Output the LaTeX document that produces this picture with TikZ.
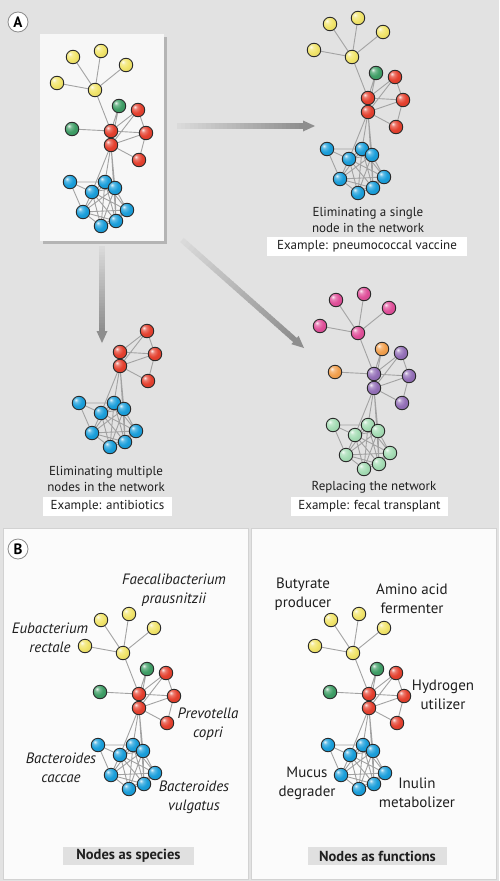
\documentclass[tikz,border=0pt]{standalone}
\usepackage{fontspec}
\setmainfont{PT Sans}
\usetikzlibrary{arrows.meta,calc}
\pgfdeclarelayer{bglayer}
\pgfdeclarelayer{edgelayer}
\pgfsetlayers{bglayer,edgelayer,main}

\definecolor{bgA}{HTML}{E2E2E2}
\definecolor{boxB}{HTML}{FBFBFB}
\definecolor{boxline}{HTML}{D2D2D2}
\definecolor{netbox}{HTML}{F7F7F7}
\definecolor{shadowc}{HTML}{B4B4B4}
\definecolor{edgegray}{HTML}{A2A2A2}
\definecolor{nodeborder}{HTML}{2A2A2A}
\definecolor{arrowdark}{HTML}{8E8E8E}
\definecolor{arrowlight}{HTML}{DADADA}
\definecolor{tagbg}{HTML}{E0E0E0}
\definecolor{cyel}{HTML}{F2E56B}
\definecolor{cred}{HTML}{E5412F}
\definecolor{cgrn}{HTML}{3F9E66}
\definecolor{cblu}{HTML}{1B9FDB}
\definecolor{cpnk}{HTML}{E0509A}
\definecolor{corg}{HTML}{F2A04E}
\definecolor{cpur}{HTML}{9470B8}
\definecolor{cmnt}{HTML}{A5DDB5}

\makeatletter
\pgfdeclareradialshading[tikz@ball]{softball}{\pgfqpoint{-12bp}{12bp}}{%
 color(0bp)=(tikz@ball!10!white);
 color(8bp)=(tikz@ball!70!white);
 color(20bp)=(tikz@ball);
 color(45bp)=(tikz@ball!88!black);
 color(70bp)=(tikz@ball!75!black)}
\makeatother

\tikzset{
  bnode/.style={circle, draw=nodeborder, line width=0.9pt, minimum size=13.5pt,
    inner sep=0pt, ball color=#1, shading=softball},
  netedge/.style={draw=edgegray, line width=0.9pt},
  captxt/.style={font=\fontsize{13}{16}\selectfont, align=center, text=black!88},
  example/.style={font=\fontsize{13}{16}\selectfont, fill=white, inner sep=0pt,
    minimum height=19pt, text=black!88},
  spec/.style={font=\itshape\fontsize{15}{19}\selectfont, align=center, text=black!88},
  func/.style={font=\fontsize{15}{19}\selectfont, align=center, text=black!88},
  tagbox/.style={font=\bfseries\fontsize{14.5}{17}\selectfont, fill=tagbg, inner sep=0pt,
    minimum height=18pt, text=black!88},
  panellbl/.style={circle, draw=black!45, fill=white, line width=0.8pt, minimum size=20pt,
    inner sep=0pt, font=\bfseries\fontsize{15}{15}\selectfont},
}

\newcommand\ifnone[3]{\def\tmpa{#1}\def\tmpb{none}\ifx\tmpa\tmpb #2\else #3\fi}

% #1 prefix #2 dx #3 dy #4 Y col #5 G1 col #6 G2 col #7 R col #8 B col
\newcommand\mknet[8]{%
\begin{scope}[shift={(#2,#3)}]
 \node[bnode=#7] (#1Ra) at (111,131) {};
 \node[bnode=#7] (#1Rb) at (111,145) {};
 \node[bnode=#7] (#1R1) at (138,110) {};
 \node[bnode=#7] (#1R2) at (146,133) {};
 \node[bnode=#7] (#1R3) at (139,160) {};
 \node[bnode=#8] (#1B1) at (70,182) {};
 \node[bnode=#8] (#1B2) at (105,182) {};
 \node[bnode=#8] (#1B3) at (115,188) {};
 \node[bnode=#8] (#1B4) at (92,192) {};
 \node[bnode=#8] (#1B5) at (83,212) {};
 \node[bnode=#8] (#1B6) at (127,210) {};
 \node[bnode=#8] (#1B7) at (116,221) {};
 \node[bnode=#8] (#1B8) at (101,226) {};
 \ifnone{#4}{}{%
 \node[bnode=#4] (#1Y1) at (73,57) {};
 \node[bnode=#4] (#1Y2) at (101,51) {};
 \node[bnode=#4] (#1Y3) at (126,65) {};
 \node[bnode=#4] (#1Y4) at (57,83) {};
 \node[bnode=#4] (#1Yh) at (95,90) {};}%
 \ifnone{#5}{}{\node[bnode=#5] (#1G1) at (119,106) {};}%
 \ifnone{#6}{}{\node[bnode=#6] (#1G2) at (72,129) {};}%
\end{scope}
\begin{pgfonlayer}{edgelayer}
 \draw[netedge] (#1Ra) -- (#1Rb) (#1Ra) -- (#1R1) (#1Ra) -- (#1R2)
   (#1Rb) -- (#1R1) (#1Rb) -- (#1R2) (#1Rb) -- (#1R3) (#1R1) -- (#1R2) (#1R2) -- (#1R3)
   (#1Rb) -- (#1B4) (#1Rb) -- (#1B2) (#1Rb) -- (#1B3) (#1Rb) -- (#1B7);
 \draw[netedge] (#1B1) -- (#1B2) (#1B1) -- (#1B4) (#1B1) -- (#1B5)
   (#1B2) -- (#1B3) (#1B2) -- (#1B4) (#1B2) -- (#1B5) (#1B2) -- (#1B6) (#1B2) -- (#1B7) (#1B2) -- (#1B8)
   (#1B3) -- (#1B4) (#1B3) -- (#1B5) (#1B3) -- (#1B6) (#1B3) -- (#1B7) (#1B3) -- (#1B8)
   (#1B4) -- (#1B5) (#1B4) -- (#1B6) (#1B4) -- (#1B7) (#1B4) -- (#1B8)
   (#1B5) -- (#1B6) (#1B5) -- (#1B7) (#1B5) -- (#1B8)
   (#1B6) -- (#1B7) (#1B6) -- (#1B8) (#1B7) -- (#1B8);
 \ifnone{#4}{}{\draw[netedge] (#1Yh) -- (#1Y1) (#1Yh) -- (#1Y2) (#1Yh) -- (#1Y3) (#1Yh) -- (#1Y4) (#1Yh) -- (#1Ra);}%
 \ifnone{#5}{}{\draw[netedge] (#1G1) -- (#1Ra) (#1G1) -- (#1Rb);}%
 \ifnone{#6}{}{\draw[netedge] (#1G2) -- (#1Ra);}%
\end{pgfonlayer}%
}

% gradient arrow: #1 start, #2 head base, #3 tip
\newcommand\gradarrow[3]{%
 \foreach \i in {0,...,29}{%
   \pgfmathsetmacro\pa{\i/30}%
   \pgfmathsetmacro\pb{(\i+1.2)/30}%
   \pgfmathtruncatemacro\cc{100*\i/29}%
   \draw[line width=5.5pt, draw=arrowdark!\cc!arrowlight] ($(#1)!\pa!(#2)$) -- ($(#1)!\pb!(#2)$);
 }%
 \fill[arrowdark] ($(#2)!5.5pt!90:(#3)$) -- (#3) -- ($(#2)!5.5pt!-90:(#3)$) -- cycle;
}

\begin{document}
\begin{tikzpicture}[x=1pt,y=-1pt]
\useasboundingbox (0,0) rectangle (499,881);
\begin{pgfonlayer}{bglayer}
 \fill[bgA] (0,0) rectangle (499,881);
 \fill[shadowc] (43,37) rectangle (167,244);
 \fill[netbox] (40,34) rectangle (164,241);
 \filldraw[fill=boxB, draw=boxline, line width=0.6pt] (3,528) rectangle (248,879);
 \filldraw[fill=boxB, draw=boxline, line width=0.6pt] (251,528) rectangle (496,879);
\end{pgfonlayer}

% panel labels
\node[panellbl] (labA) at (18,22) {A};
\node[panellbl] (labB) at (18,549) {B};

% networks
\mknet{a}{0}{0}{cyel}{cgrn}{cgrn}{cred}{cblu}
\mknet{b}{257}{-33}{cyel}{cgrn}{none}{cred}{cblu}
\mknet{c}{9}{221}{none}{none}{none}{cred}{cblu}
\mknet{d}{263}{243}{cpnk}{corg}{corg}{cpur}{cmnt}
\mknet{e}{28}{563}{cyel}{cgrn}{cgrn}{cred}{cblu}
\mknet{f}{258}{563}{cyel}{cgrn}{cgrn}{cred}{cblu}

% arrows
\coordinate (h0) at (177,126);
\coordinate (h1) at (303,126);
\coordinate (h2) at (315,126);
\coordinate (v0) at (102,246);
\coordinate (v1) at (102,331);
\coordinate (v2) at (102,343);
\coordinate (d0) at (182,240);
\coordinate (d2) at (304,348);
\coordinate (d1) at ($(d2)!12pt!(d0)$);
\gradarrow{h0}{h1}{h2}
\gradarrow{v0}{v1}{v2}
\gradarrow{d0}{d1}{d2}

% panel A captions
\node[captxt] (capb) at (368,220) {Eliminating a single\\node in the network};
\node[example, minimum width=200pt] (exb) at (367,246.5) {Example: pneumococcal vaccine};
\node[captxt] (capc) at (106,479) {Eliminating multiple\\nodes in the network};
\node[example, minimum width=129pt] (exc) at (107.5,506.5) {Example: antibiotics};
\node[captxt] (capd) at (374,487) {Replacing the network};
\node[example, minimum width=157pt] (exd) at (369.5,506.5) {Example: fecal transplant};

% panel B labels
\node[spec] (sp1) at (174,590) {Faecalibacterium\\prausnitzii};
\node[spec] (sp2) at (50,637.5) {Eubacterium\\rectale};
\node[spec] (sp3) at (208,724.5) {Prevotella\\copri};
\node[spec] (sp4) at (61,767.5) {Bacteroides\\caccae};
\node[spec] (sp5) at (194,797.5) {Bacteroides\\vulgatus};
\node[func] (fn1) at (303,594.5) {Butyrate\\producer};
\node[func] (fn2) at (412,598.5) {Amino acid\\fermenter};
\node[func] (fn3) at (443,694.5) {Hydrogen\\utilizer};
\node[func] (fn4) at (307,783) {Mucus\\degrader};
\node[func] (fn5) at (417,792.5) {Inulin\\metabolizer};
\node[tagbox, minimum width=131pt] (tg1) at (128.5,856) {Nodes as species};
\node[tagbox, minimum width=139pt] (tg2) at (377.5,856) {Nodes as functions};
\end{tikzpicture}
\end{document}
